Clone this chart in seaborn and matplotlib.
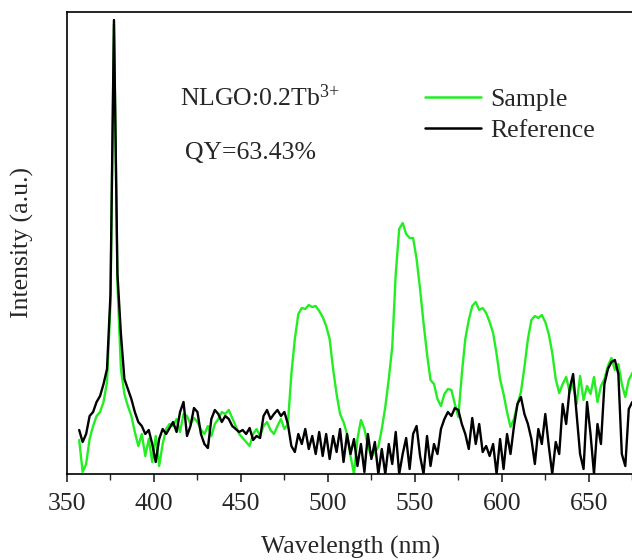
import numpy as np
import pandas as pd
import seaborn as sns
import matplotlib.pyplot as plt
from matplotlib.ticker import MultipleLocator

# wavelength grid (nm), 2 nm step
wavelength = np.arange(357, 677, 2)

# emission intensity (a.u.)
sample = [
    34, 2, 10, 35, 48, 58, 62, 72, 92, 170,
    450, 190, 105, 80, 68, 58, 42, 28, 40, 18,
    35, 12, 38, 8, 30, 45, 50, 48, 55, 42,
    60, 58, 50, 56, 52, 44, 40, 48, 38, 50,
    55, 62, 60, 64, 56, 48, 40, 36, 32, 28,
    40, 45, 38, 48, 52, 44, 40, 48, 55, 45,
    50, 100, 135, 160, 166, 165, 169, 167, 168, 163,
    157, 148, 135, 105, 80, 60, 52, 40, 18, 0,
    35, 54, 45, 28, 17, 22, 27, 45, 67, 95,
    127, 200, 245, 251, 240, 236, 236, 215, 185, 151,
    120, 94, 90, 75, 68, 80, 85, 84, 70, 57,
    100, 135, 154, 168, 172, 164, 166, 161, 152, 141,
    120, 95, 80, 62, 47, 55, 70, 82, 107, 135,
    154, 158, 156, 159, 152, 140, 121, 95, 81, 90,
    97, 82, 90, 70, 98, 74, 88, 80, 97, 72,
    88, 95, 108, 116, 104, 110, 90, 77, 94, 101,
]
reference = [
    44, 32, 40, 58, 62, 72, 78, 90, 105, 180,
    454, 200, 140, 95, 85, 75, 62, 52, 48, 40,
    44, 30, 12, 35, 45, 40, 46, 52, 42, 62,
    72, 38, 48, 66, 62, 40, 30, 26, 55, 64,
    60, 52, 58, 55, 48, 45, 42, 44, 40, 46,
    34, 38, 36, 58, 64, 55, 60, 64, 58, 62,
    50, 28, 22, 40, 30, 45, 25, 38, 20, 42,
    18, 40, 15, 38, 22, 45, 12, 40, 20, 35,
    8, 30, 2, 40, 15, 32, 0, 25, 0, 30,
    10, 42, 0, 20, 36, 5, 40, 48, 18, 0,
    38, 8, 30, 20, 45, 55, 62, 58, 66, 64,
    50, 40, 25, 56, 30, 50, 22, 28, 18, 30,
    0, 35, 5, 40, 20, 48, 70, 77, 60, 50,
    35, 10, 45, 30, 60, 28, 0, 32, 20, 70,
    50, 85, 100, 60, 20, 5, 72, 40, 0, 50,
    30, 90, 105, 112, 114, 100, 20, 8, 65, 72,
]

df = pd.concat([
    pd.DataFrame({"Wavelength": wavelength, "Intensity": sample, "series": "Sample"}),
    pd.DataFrame({"Wavelength": wavelength, "Intensity": reference, "series": "Reference"}),
])

sns.set_style("ticks")
plt.rcParams["font.family"] = ["Liberation Serif", "DejaVu Serif"]
plt.rcParams["mathtext.default"] = "regular"

fs = 18.5

fig = plt.figure(figsize=(6.32, 5.6), dpi=100)
ax = fig.add_axes([67 / 632, 86 / 560, 567 / 632, 462 / 560])

sns.lineplot(data=df, x="Wavelength", y="Intensity", hue="series",
             hue_order=["Sample", "Reference"],
             palette={"Sample": "#22ee22", "Reference": "black"},
             linewidth=1.7, ax=ax, estimator=None, sort=False)

ax.set_xlim(350, 676)
ax.set_ylim(0, 462)
ax.xaxis.set_major_locator(MultipleLocator(50))
ax.xaxis.set_minor_locator(MultipleLocator(25))
ax.tick_params(axis="x", which="major", direction="out", length=6, width=1.2,
               labelsize=fs, pad=8)
ax.tick_params(axis="x", which="minor", direction="out", length=4, width=1.0)
ax.set_yticks([])
ax.spines["right"].set_visible(False)
for s in ["left", "top", "bottom"]:
    ax.spines[s].set_linewidth(1.2)
    ax.spines[s].set_color("black")

ax.set_xlabel("Wavelength (nm)", fontsize=fs, labelpad=15)
ax.set_ylabel("Intensity (a.u.)", fontsize=fs, labelpad=24)

ax.text(0.199, 0.814, "NLGO:0.2Tb$^{3{+}}$", transform=ax.transAxes,
        fontsize=fs, va="center")
ax.text(0.208, 0.695, "QY=63.43%", transform=ax.transAxes,
        fontsize=fs, va="center")

leg = ax.legend(loc="upper left", bbox_to_anchor=(0.631, 0.836), frameon=False,
                fontsize=fs, handlelength=2.2, handletextpad=0.35,
                labelspacing=0.32, borderaxespad=0, borderpad=0)
for line in leg.get_lines():
    line.set_linewidth(1.8)

fig.savefig("out.png", dpi=100, facecolor="white")
